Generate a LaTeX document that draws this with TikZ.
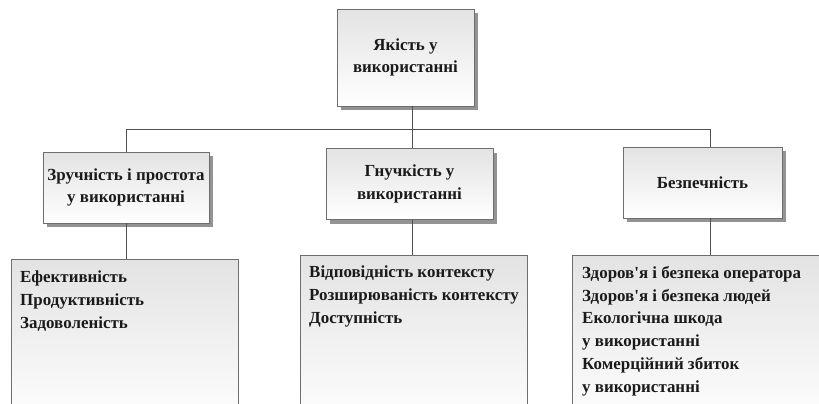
\documentclass[tikz,border=0pt]{standalone}
\usepackage{fontspec}
\newfontfamily\boxfont{Liberation Serif}
\usetikzlibrary{shadows}
\definecolor{edge}{HTML}{6E6E6E}
\definecolor{wire}{HTML}{505050}
\definecolor{ink}{HTML}{1A1A1A}
\begin{document}
\begin{tikzpicture}[x=1bp,y=-1bp,
  every node/.style={font=\boxfont\bfseries\fontsize{17}{22.5}\selectfont, text=ink},
  headbox/.style={draw=edge, line width=0.9bp, top color=gray!22, bottom color=white,
    align=center, inner sep=0pt,
    drop shadow={shadow xshift=4bp, shadow yshift=-4bp, fill=gray!85, opacity=1}},
  listbox/.style={draw=edge, line width=0.9bp, top color=gray!22, bottom color=white},
  listtext/.style={align=left, anchor=north west, inner sep=0pt,
    font=\boxfont\bfseries\fontsize{17}{22.9}\selectfont},
  wireline/.style={draw=wire, line width=1bp}]
\useasboundingbox (0,0) rectangle (819,403);
\clip (0,0) rectangle (819,403);

% top-level box
\node[headbox, minimum width=137bp, minimum height=97bp] (top) at (405.5,57.5)
  {Якість у\\використанні};

% second-level boxes
\node[headbox, minimum width=166bp, minimum height=71bp] (ease) at (126,187.5)
  {Зручність і простота\\у використанні};
\node[headbox, minimum width=167bp, minimum height=71bp] (flex) at (409.5,184)
  {Гнучкість у\\використанні};
\node[headbox, minimum width=159bp, minimum height=71bp] (safe) at (702.5,182.5)
  {Безпечність};

% list boxes (run past the lower edge)
\path[listbox] (11,259) rectangle (238,430);
\path[listbox] (300,255) rectangle (527,430);
\path[listbox] (572,255) rectangle (840,430);
\node[listtext] (easelist) at (20,271)
  {Ефективність\\Продуктивність\\Задоволеність};
\node[listtext] (flexlist) at (309,266)
  {Відповідність контексту\\Розширюваність контексту\\Доступність};
\node[listtext] (safelist) at (582,266)
  {Здоров'я і безпека оператора\\Здоров'я і безпека людей\\Екологічна шкода\\у використанні\\Комерційний збиток\\у використанні};

% bus and drop lines
\coordinate (busL) at (126,129);
\coordinate (busM) at (412,129);
\coordinate (busR) at (710,129);
\coordinate (easeTop) at (126,259);
\coordinate (flexTop) at (412,255);
\coordinate (safeTop) at (710,255);
\draw[wireline] (top.south -| busM) -- (busM);
\draw[wireline] (ease.north -| busL) -- (busL) -- (busR) -- (safe.north -| busR);
\draw[wireline] (busM) -- (flex.north -| busM);
\draw[wireline] (ease.south -| easeTop) -- (easeTop);
\draw[wireline] (flex.south -| flexTop) -- (flexTop);
\draw[wireline] (safe.south -| safeTop) -- (safeTop);
\end{tikzpicture}
\end{document}
